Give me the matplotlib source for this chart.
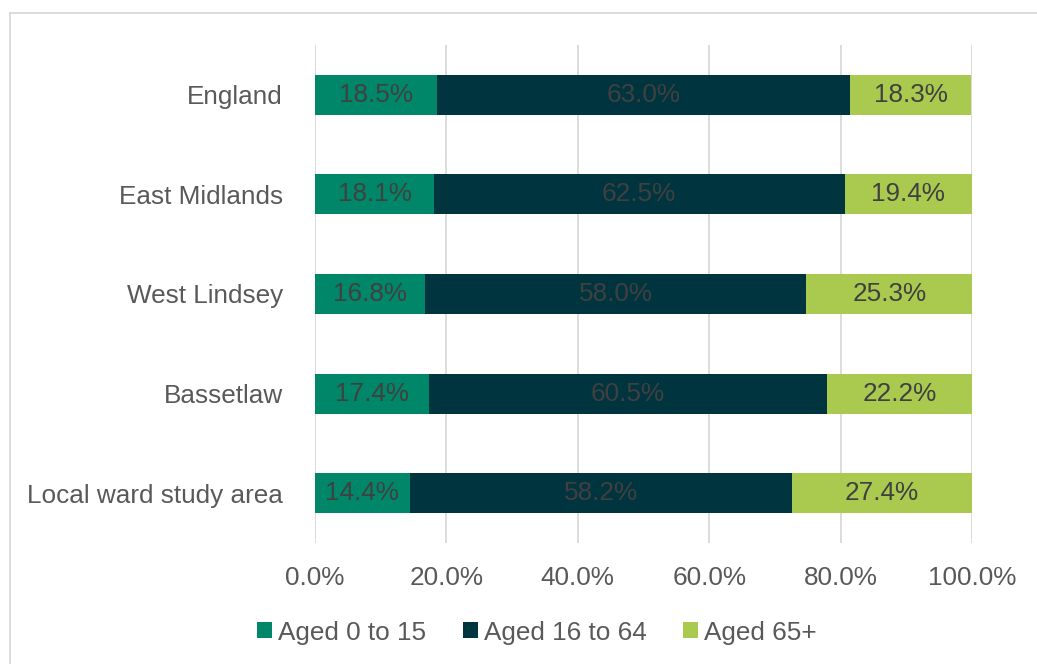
#!/usr/bin/env python3
# age_structure.py

import matplotlib
matplotlib.use("Agg")
import matplotlib.pyplot as plt
from matplotlib.lines import Line2D
from matplotlib.ticker import FuncFormatter, MultipleLocator
import numpy as np

areas = ["England", "East Midlands", "West Lindsey", "Bassetlaw", "Local ward study area"]
series = ["Aged 0 to 15", "Aged 16 to 64", "Aged 65+"]
aged_0_15 = [18.5, 18.1, 16.8, 17.4, 14.4]
aged_16_64 = [63.0, 62.5, 58.0, 60.5, 58.2]
aged_65_plus = [18.3, 19.4, 25.3, 22.2, 27.4]

colors = ["#00876A", "#00343F", "#A9C94F"]
FS = 18.8


def plot(ax):
    values = [aged_0_15, aged_16_64, aged_65_plus]
    y = np.arange(len(areas))
    left = np.zeros(len(areas))
    for name, vals, col in zip(series, values, colors):
        vals = np.array(vals)
        bars = ax.barh(y, vals, left=left, height=0.4, color=col, label=name, zorder=3)
        ax.bar_label(bars, labels=[f"{v:.1f}%" for v in vals], label_type="center",
                     color="#404040", fontsize=FS)
        left += vals

    ax.set_yticks(y)
    ax.set_yticklabels(areas)
    ax.set_ylim(len(areas) - 0.5, -0.5)
    ax.set_xlim(0, 100)
    ax.xaxis.set_major_locator(MultipleLocator(20))
    ax.xaxis.set_major_formatter(FuncFormatter(lambda v, p: f"{v:.1f}%"))
    ax.grid(axis="x", color="#D9D9D9", linewidth=1.3, zorder=0)
    for s in ax.spines.values():
        s.set_visible(False)
    ax.tick_params(axis="both", length=0, labelsize=FS, labelcolor="#595959")
    ax.tick_params(axis="y", pad=23)
    ax.tick_params(axis="x", pad=16.5)

    ax.legend(loc="center", bbox_to_anchor=(0.338, -0.18), ncol=3, frameon=False,
              fontsize=FS, labelcolor="#595959", handlelength=0.56, handleheight=0.56,
              handletextpad=0.24, columnspacing=1.4)


def main():
    plt.rcParams["font.family"] = ["Liberation Sans", "DejaVu Sans"]
    fig = plt.figure(figsize=(10.37, 6.64), dpi=100)
    ax = fig.add_axes([315 / 1037, 1 - 543 / 664, 657 / 1037, 498 / 664])
    plot(ax)
    # outer chart border (left and top edges only visible)
    fig.add_artist(Line2D([9.5 / 1037, 9.5 / 1037], [0, 1 - 12.5 / 664],
                          transform=fig.transFigure, color="#D9D9D9", linewidth=1.3))
    fig.add_artist(Line2D([9.5 / 1037, 1], [1 - 12.5 / 664, 1 - 12.5 / 664],
                          transform=fig.transFigure, color="#D9D9D9", linewidth=1.3))
    fig.savefig("out.png", dpi=100)


if __name__ == "__main__":
    main()
